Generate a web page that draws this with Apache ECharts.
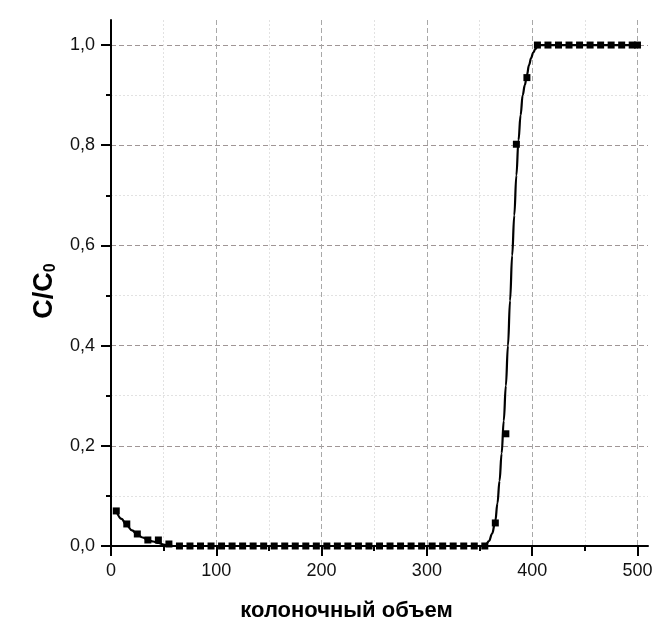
<!DOCTYPE html>
<html><head><meta charset="utf-8">
<script src="https://cdn.jsdelivr.net/npm/echarts@6/dist/echarts.min.js"></script>
<style>html,body{margin:0;padding:0;background:#fff}#c{width:663px;height:630px}</style>
</head><body><div id="c"></div>
<script>
// measured points (колоночный объем, C/C0)
const pointX = [5,15,25,35,45,55,65,75,85,95,105,115,125,135,145,155,165,175,185,195,205,215,225,235,245,255,265,275,285,295,305,315,325,335,345,355,365,375,385,395,405,415,425,435,445,455,465,475,485,495,500];
const pointY = [0.07,0.044,0.024,0.012,0.012,0.004,0,0,0,0,0,0,0,0,0,0,0,0,0,0,0,0,0,0,0,0,0,0,0,0,0,0,0,0,0,0,0.046,0.224,0.802,0.935,1,1,1,1,1,1,1,1,1,1,1];
// fitted curve
const curveX = [5,10,15,20,25,30,35,40,45,50,55,60,352,356,359,362,365,367,369,371,373,375,377,379,381,383,385,387,389,391,393,395,397,399,401,403,405,408,500];
const curveY = [0.07,0.054,0.041,0.031,0.023,0.017,0.012,0.009,0.006,0.003,0.001,0,0,0.003,0.01,0.025,0.05,0.085,0.13,0.185,0.25,0.32,0.40,0.49,0.58,0.66,0.74,0.81,0.86,0.90,0.92,0.94,0.96,0.974,0.985,0.992,0.997,1,1];
const xMajor = [0,100,200,300,400,500];
const xMinor = [50,150,250,350,450];
const yMajor = [0,0.2,0.4,0.6,0.8,1.0];
const yMinor = [0.1,0.3,0.5,0.7,0.9];
const xTitle = 'колоночный объем';

const FONT = "'Liberation Sans', Arial, sans-serif";
const chart = echarts.init(document.getElementById('c'));
const xr = [0, 510], yr = [0, 1.05];
chart.setOption({
  animation: false,
  backgroundColor: '#fff',
  grid: {left: 111, top: 20, right: 15, bottom: 84, containLabel: false},
  xAxis: [{
    type: 'value', min: xr[0], max: xr[1], interval: 100, position: 'bottom',
    name: xTitle, nameLocation: 'middle', nameGap: 54,
    nameTextStyle: {fontFamily: FONT, fontSize: 22, fontWeight: 'bold', color: '#000', padding: [0, 66, 0, 0]},
    axisLine: {onZero: false, lineStyle: {color: '#000', width: 2}},
    axisTick: {customValues: xMajor, length: 10, lineStyle: {color: '#000', width: 2}},
    axisLabel: {customValues: xMajor, margin: 16, fontFamily: FONT, fontSize: 18, color: '#111'},
    splitLine: {show: true, lineStyle: {color: '#a8a8a8', type: [5, 3], width: 1}}
  }, {
    type: 'value', min: xr[0], max: xr[1], position: 'bottom', offset: 0,
    axisLine: {show: false},
    axisTick: {customValues: xMinor, length: 5, lineStyle: {color: '#000', width: 2}},
    axisLabel: {show: false},
    splitLine: {show: true, lineStyle: {color: '#e2e2e2', type: [2, 2], width: 1}}
  }],
  yAxis: [{
    type: 'value', min: yr[0], max: yr[1], interval: 0.2, position: 'left',
    name: '{a|C/C}{b|0}', nameLocation: 'middle', nameGap: 52, nameRotate: 90,
    nameTextStyle: {padding: [0, 16, 0, 0], rich: {
      a: {fontFamily: FONT, fontSize: 27, fontWeight: 'bold', color: '#000'},
      b: {fontFamily: FONT, fontSize: 16, fontWeight: 'bold', color: '#000', verticalAlign: 'bottom', padding: [13, 0, 0, 0]}
    }},
    axisLine: {onZero: false, lineStyle: {color: '#000', width: 2}},
    axisTick: {customValues: yMajor, length: 10, lineStyle: {color: '#000', width: 2}},
    axisLabel: {customValues: yMajor, margin: 16, fontFamily: FONT, fontSize: 18, color: '#111',
      formatter: v => v.toFixed(1).replace('.', ',')},
    splitLine: {show: true, lineStyle: {color: '#a09696', type: [5, 3], width: 1}}
  }, {
    type: 'value', min: yr[0], max: yr[1], position: 'left', offset: 0,
    axisLine: {show: false},
    axisTick: {customValues: yMinor, length: 5, lineStyle: {color: '#000', width: 2}},
    axisLabel: {show: false},
    splitLine: {show: true, lineStyle: {color: '#e2e2e2', type: [2, 2], width: 1}}
  }],
  series: [{
    type: 'line', xAxisIndex: 0, yAxisIndex: 0,
    data: curveX.map((x, i) => [x, curveY[i]]),
    showSymbol: false, smooth: 0.4, smoothMonotone: 'x',
    lineStyle: {color: '#000', width: 2.2}, z: 3
  }, {
    type: 'scatter', xAxisIndex: 0, yAxisIndex: 0,
    data: pointX.map((x, i) => [x, pointY[i]]),
    symbol: 'rect', symbolSize: 7, itemStyle: {color: '#000', opacity: 1}, z: 4
  }]
});
</script></body></html>
